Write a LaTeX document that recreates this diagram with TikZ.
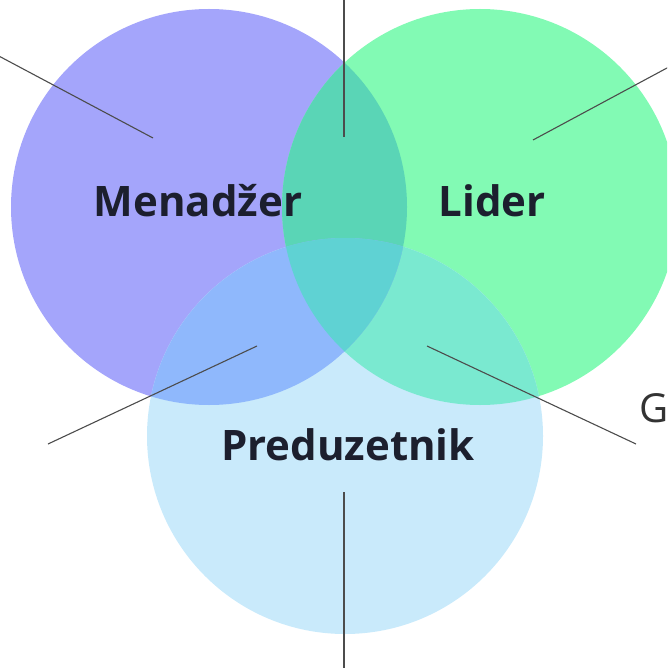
\documentclass[tikz,border=0pt]{standalone}
\usepackage{fontspec}
\setmainfont{Open Sans}
\definecolor{cMen}{HTML}{A4A5FB}
\definecolor{cLid}{HTML}{82FAB4}
\definecolor{cPre}{HTML}{C9EAFB}
\definecolor{cMenLid}{HTML}{5AD5B6}
\definecolor{cMenPre}{HTML}{8FB8FC}
\definecolor{cLidPre}{HTML}{7AE9D0}
\definecolor{cAll}{HTML}{5FD2D3}
\definecolor{labelink}{HTML}{1C1F2E}
\definecolor{leadgray}{HTML}{4C4C4C}
\definecolor{sidetext}{HTML}{333333}
\begin{document}
\begin{tikzpicture}[x=1pt,y=-1pt,
  lbl/.style={font=\bfseries\fontsize{42}{50}\selectfont, text=labelink, inner sep=0pt, anchor=base},
  side/.style={font=\fontsize{40}{48}\selectfont, text=sidetext, inner sep=0pt, anchor=base west},
  leader/.style={draw=leadgray, line width=1.1pt}]
\useasboundingbox (0,0) rectangle (667,668);
\clip (0,0) rectangle (667,668);
\def\rad{198}
% circle centres
\coordinate (cm) at (209,207);
\coordinate (cl) at (480,207);
\coordinate (cp) at (345,436);
% base discs
\fill[cMen] (cm) circle (\rad);
\fill[cLid] (cl) circle (\rad);
\fill[cPre] (cp) circle (\rad);
% pairwise and triple overlaps
\begin{scope}
  \clip (cl) circle (\rad);
  \fill[cLidPre] (cp) circle (\rad);
\end{scope}
\begin{scope}
  \clip (cm) circle (\rad);
  \fill[cMenLid] (cl) circle (\rad);
  \fill[cMenPre] (cp) circle (\rad);
  \clip (cl) circle (\rad);
  \fill[cAll] (cp) circle (\rad);
\end{scope}
% labels
\node[lbl] (men) at (198,216) {Menadžer};
\node[lbl] (lid) at (492,216) {Lider};
\node[lbl] (pre) at (348,460) {Preduzetnik};
\node[side] (gtx) at (639,422) {G};
% leader line end points
\coordinate (a1) at (153,138);  \coordinate (b1) at (-20,46);
\coordinate (a2) at (344,137);  \coordinate (b2) at (344,-5);
\coordinate (a3) at (533,140);  \coordinate (b3) at (680,61);
\coordinate (a4) at (257,346);  \coordinate (b4) at (48,444);
\coordinate (a5) at (427,346);  \coordinate (b5) at (636,444);
\coordinate (a6) at (344,492);  \coordinate (b6) at (344,675);
\foreach \i in {1,...,6} \draw[leader] (a\i) -- (b\i);
\end{tikzpicture}
\end{document}
